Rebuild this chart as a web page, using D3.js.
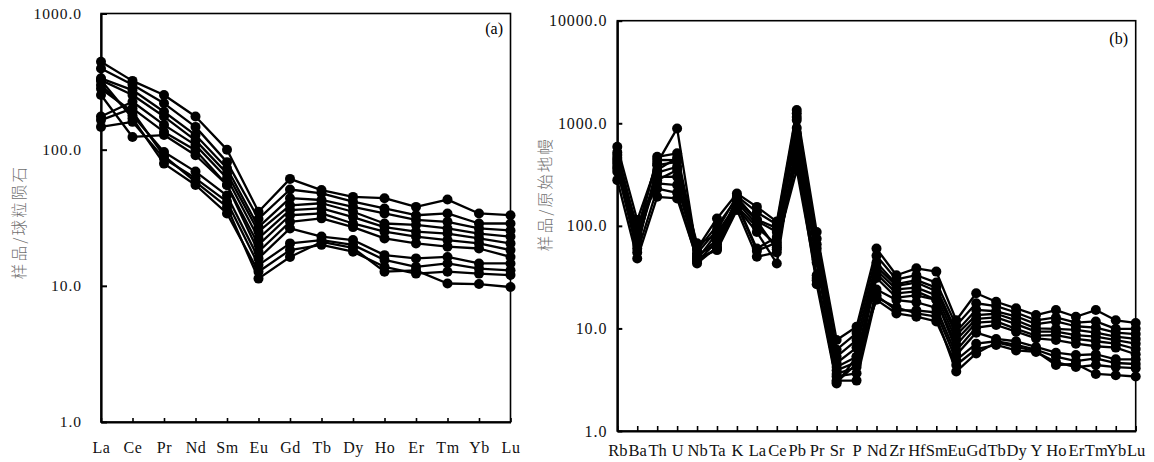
<!DOCTYPE html>
<html>
<head>
<meta charset="utf-8">
<script src="https://cdn.jsdelivr.net/npm/d3@7"></script>
<style>
  html, body { margin: 0; padding: 0; background: #fff; }
  svg { display: block; }
  .tick text, .cat text { font-family: "Liberation Serif", "Times New Roman", serif; fill: #111; }
  .ytitle { font-family: "Noto Sans CJK SC", sans-serif; fill: #707070; font-weight: 300; }
</style>
</head>
<body>
<svg id="chart" width="1154" height="462"></svg>
<script>
// ---- (a) chondrite-normalised REE patterns ----
const reeElements = ["La","Ce","Pr","Nd","Sm","Eu","Gd","Tb","Dy","Ho","Er","Tm","Yb","Lu"];
const reeS1  = [442, 320, 252, 175, 100, 35, 61, 50.5, 45, 44, 38, 43, 34, 33];
const reeS2  = [395, 300, 219, 147, 81, 31, 51, 47.8, 41.5, 37, 33, 34, 28.7, 28.7];
const reeS3  = [334, 274, 190, 128, 73, 27, 44, 42.7, 38, 34, 30.5, 29.5, 26.4, 25.5];
const reeS4  = [324, 252, 175, 117, 67, 25, 39, 40.4, 35, 28.7, 28, 26.4, 24.2, 23];
const reeS5  = [175, 225, 152, 108, 61.6, 22.3, 36, 37, 32, 27, 25, 24.2, 22.3, 20.5];
const reeS6  = [165, 201, 135, 99, 55, 20, 33, 34, 28.7, 25, 23, 21.7, 20.5, 18.3];
const reeS7  = [252, 124, 128, 91, 55, 17.8, 29.5, 31.3, 27, 22.3, 20.5, 19.4, 18.8, 16.3];
const reeS8  = [298, 179, 96, 69, 46, 15.9, 26.4, 23, 21.7, 16.8, 15.9, 16.3, 14.6, 14.6];
const reeS9  = [147, 160, 86, 61.6, 41.5, 14.2, 20.5, 21.7, 20, 15.5, 13.8, 14.6, 13.4, 13];
const reeS10 = [324, 170, 79, 55, 34, 12.7, 18.3, 20, 17.8, 13.8, 12.3, 12.7, 12.3, 12];
const reeS11 = [280, 190, 90, 58, 38, 11.3, 16.3, 21, 19, 12.7, 13, 10.4, 10.3, 9.8];
const reeTicks = [1, 10, 100, 1000];

// ---- (b) primitive-mantle-normalised spider patterns ----
const spiderElements = ["Rb","Ba","Th","U","Nb","Ta","K","La","Ce","Pb","Pr","Sr","P","Nd","Zr","Hf","Sm","Eu","Gd","Tb","Dy","Y","Ho","Er","Tm","Yb","Lu"];
const pmS1  = [420, 80, 471, 509, 60, 118, 207, 153, 110, 1345, 87, 7.7, 10.4, 60, 33, 38.5, 35.8, 12, 22, 18.2, 15.7, 13.5, 15.1, 13, 15.1, 12, 11.3];
const pmS2  = [590, 114, 409, 891, 54, 91, 195, 136, 103, 1250, 75, 6.2, 9, 51, 30, 33, 28, 10.7, 17.6, 16.5, 14.3, 12, 12.8, 11.4, 11.7, 9.9, 9.9];
const pmS3  = [490, 91, 440, 438, 58, 100, 185, 115, 95, 1150, 66, 5.3, 7.7, 44, 27, 29.6, 25, 9.3, 15.2, 14.7, 13.1, 11, 11.7, 10.5, 10.2, 9.1, 8.8];
const pmS4  = [460, 65, 350, 460, 50, 73, 178, 112, 87, 1074, 60, 4.6, 6.5, 40, 26, 28, 23, 8.6, 13.5, 13.9, 12, 10, 9.9, 9.7, 9.1, 8.3, 7.9];
const pmS5  = [377, 75, 330, 377, 47, 85, 165, 60, 78, 900, 52, 4.2, 5.3, 37, 24, 25, 21, 7.7, 12.4, 12.8, 11, 9.3, 9.3, 8.6, 8.3, 7.7, 7.1];
const pmS6  = [337, 70, 300, 301, 45, 70, 160, 57, 69, 800, 47, 3.9, 4.7, 34, 22, 23, 19, 6.9, 11.4, 11.7, 9.9, 8.5, 8.6, 7.9, 7.5, 7.1, 6.3];
const pmS7  = [400, 100, 279, 350, 67.5, 80, 150, 87, 43, 700, 44, 3.6, 4.2, 31, 20, 21, 19, 6.1, 10.2, 10.8, 9.3, 8, 7.7, 7.1, 6.7, 6.5, 5.6];
const pmS8  = [440, 60, 390, 420, 43, 62, 170, 103, 62, 600, 33, 3.4, 3.65, 24, 18.9, 18, 15.9, 5.5, 9.1, 7.9, 7.5, 6.6, 5.8, 5.5, 5.6, 5, 5];
const pmS9  = [279, 48, 192, 185, 48, 58, 143, 50, 55, 500, 29.5, 3.1, 3.1, 21, 15, 15, 14.3, 4.9, 7.1, 7.5, 6.9, 6.2, 5.3, 4.8, 5.1, 4.6, 4.5];
const pmS10 = [520, 90, 260, 250, 52, 66, 190, 112, 59, 438, 27, 2.9, 5.3, 19, 14, 13, 11.7, 4.4, 6.3, 6.9, 6.1, 5.9, 4.7, 4.2, 4.4, 4.2, 4.1];
const pmS11 = [360, 55, 230, 210, 46, 60, 155, 97, 65, 350, 31, 3.0, 4.5, 20, 16, 14, 13, 3.8, 5.7, 7.3, 6.6, 6.0, 4.4, 4.5, 3.6, 3.5, 3.4];
const pmTicks = [1, 10, 100, 1000, 10000];

const svg = d3.select("#chart");
svg.append("rect").attr("width", 1154).attr("height", 462).attr("fill", "#fff");

function drawPanel(cfg) {
  const x = d3.scalePoint().domain(cfg.cats).range([cfg.left, cfg.right]).padding(0);
  const y = d3.scaleLog().domain(cfg.domain).range([cfg.bottom, cfg.top]);
  const g = svg.append("g");

  // plot frame
  g.append("rect")
    .attr("x", cfg.left).attr("y", cfg.top)
    .attr("width", cfg.right - cfg.left).attr("height", cfg.bottom - cfg.top)
    .attr("fill", "none").attr("stroke", "#000").attr("stroke-width", 1.6);

  // series: line then markers
  const line = d3.line().x((d, i) => x(cfg.cats[i])).y(d => y(d));
  cfg.series.forEach(s => {
    g.append("path").datum(s)
      .attr("d", line).attr("fill", "none")
      .attr("stroke", "#000").attr("stroke-width", 2.3).attr("stroke-linejoin", "round");
    g.selectAll(null).data(s).enter().append("circle")
      .attr("cx", (d, i) => x(cfg.cats[i])).attr("cy", d => y(d))
      .attr("r", cfg.r).attr("fill", "#000");
  });

  // y axis
  const ya = g.append("g").attr("transform", `translate(${cfg.left},0)`)
    .call(d3.axisLeft(y).tickValues(cfg.ticks).tickFormat(d3.format(".1f"))
      .tickSizeInner(-cfg.yTick).tickSizeOuter(0).tickPadding(cfg.yPad));
  ya.select(".domain").attr("stroke-width", 2.2);
  ya.selectAll(".tick line").attr("stroke-width", 2);
  ya.selectAll(".tick text").attr("font-size", cfg.fs).attr("letter-spacing", cfg.ls);

  // x axis
  const xa = g.append("g").attr("class", "cat").attr("transform", `translate(0,${cfg.bottom})`)
    .call(d3.axisBottom(x).tickSizeInner(-cfg.xTick).tickSizeOuter(0).tickPadding(cfg.xPad));
  xa.select(".domain").attr("stroke-width", 2.2);
  xa.selectAll(".tick line").attr("stroke-width", 1.6);
  xa.selectAll(".tick text").attr("font-size", cfg.xfs).attr("letter-spacing", cfg.xls);

  // axis title
  svg.append("text").attr("class", "ytitle")
    .attr("transform", `translate(${cfg.titleX},${cfg.titleY}) rotate(-90)`)
    .attr("text-anchor", "middle").attr("font-size", 15.5).attr("letter-spacing", cfg.titleLs)
    .text(cfg.title);

  // panel tag
  svg.append("text")
    .attr("x", cfg.tagX).attr("y", cfg.tagY).attr("text-anchor", "end")
    .attr("font-family", "Liberation Serif, serif").attr("font-size", 16)
    .text(cfg.tag);
}

drawPanel({
  cats: reeElements,
  series: [reeS1, reeS2, reeS3, reeS4, reeS5, reeS6, reeS7, reeS8, reeS9, reeS10, reeS11],
  domain: [1, 1000], ticks: reeTicks,
  left: 101, right: 510.5, top: 13.5, bottom: 422,
  r: 5, yTick: 6, yPad: 19, xTick: 4, xPad: 19.5,
  fs: 15.5, ls: 1.0, xfs: 16, xls: 0.6,
  title: "样品/球粒陨石", titleX: 25, titleY: 222, titleLs: 2.2,
  tag: "(a)", tagX: 503, tagY: 34
});

drawPanel({
  cats: spiderElements,
  series: [pmS1, pmS2, pmS3, pmS4, pmS5, pmS6, pmS7, pmS8, pmS9, pmS10, pmS11],
  domain: [1, 10000], ticks: pmTicks,
  left: 617.3, right: 1135.7, top: 20.7, bottom: 431,
  r: 5, yTick: 5, yPad: 10, xTick: 5, xPad: 13.5,
  fs: 16, ls: 0.9, xfs: 16.5, xls: 0,
  title: "样品/原始地幔", titleX: 551, titleY: 194, titleLs: 2.2,
  tag: "(b)", tagX: 1128, tagY: 44
});
</script>
</body>
</html>
